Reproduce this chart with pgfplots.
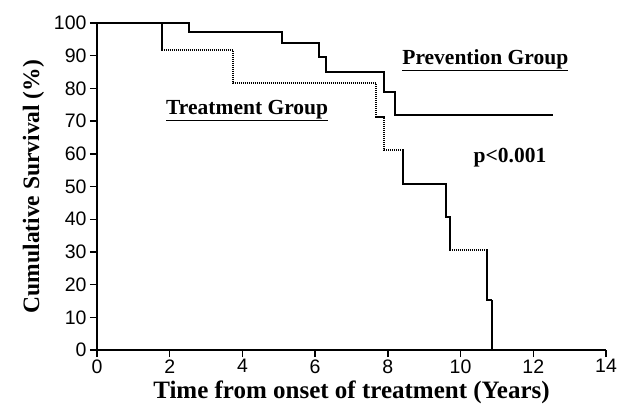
\documentclass[border=0pt]{standalone}
\usepackage{fontspec}
\setmainfont{Liberation Serif}
\newfontfamily\arialf{Liberation Sans}
\usepackage{pgfplots}
\pgfplotsset{compat=1.18}
\begin{document}
\begin{tikzpicture}
\begin{axis}[
  name=ax,
  scale only axis,
  width=509pt, height=327pt,
  xmin=0, xmax=14, ymin=0, ymax=100,
  xtick={0,2,...,14}, ytick={0,10,...,100},
  axis lines*=left,
  axis line style={line width=1.6pt},
  tick style={line width=1.4pt, black},
  tick align=outside,
  major tick length=7pt,
  /pgf/number format/assume math mode=true,
  tick label style={font=\arialf\fontsize{19.5}{19.5}\selectfont},
  xticklabel style={yshift=1pt},
  xlabel={\bfseries Time from onset of treatment (Years)},
  ylabel={\bfseries Cumulative Survival (\%)},
  xlabel style={font=\fontsize{25}{25}\selectfont\bfseries, yshift=-1pt},
  ylabel style={font=\fontsize{23.5}{23.5}\selectfont\bfseries, yshift=3pt},
  clip=false,
]
\addplot[const plot, line width=2pt, black] coordinates {
(0,100) (2.54,97.2) (5.1,93.9) (6.1,89.6) (6.3,85.0) (7.88,78.9) (8.2,71.8) (12.55,71.8)
};
\addplot[const plot, line width=2pt, black, dash pattern=on 1.6pt off 0.4pt] coordinates {
(0,100) (1.78,91.6) (3.75,81.5) (7.68,71.3) (7.9,61.1) (8.41,50.9) (9.6,40.7) (9.71,30.5) (10.72,15.3) (10.86,0) (10.86,0)
};
\node[font=\fontsize{21.5}{21.5}\selectfont\bfseries] at (axis cs:10.68,88.6) {\underline{Prevention Group}};
\node[font=\fontsize{21.5}{21.5}\selectfont\bfseries] at (axis cs:4.13,73.3) {\underline{Treatment Group}};
\node[font=\fontsize{21.5}{21.5}\selectfont\bfseries] at (axis cs:11.36,58.9) {p<0.001};
\end{axis}
\pgfresetboundingbox
\path ([shift={(-97pt,-60pt)}]ax.south west) rectangle ([shift={(520pt,350pt)}]ax.south west);
\end{tikzpicture}
\end{document}
